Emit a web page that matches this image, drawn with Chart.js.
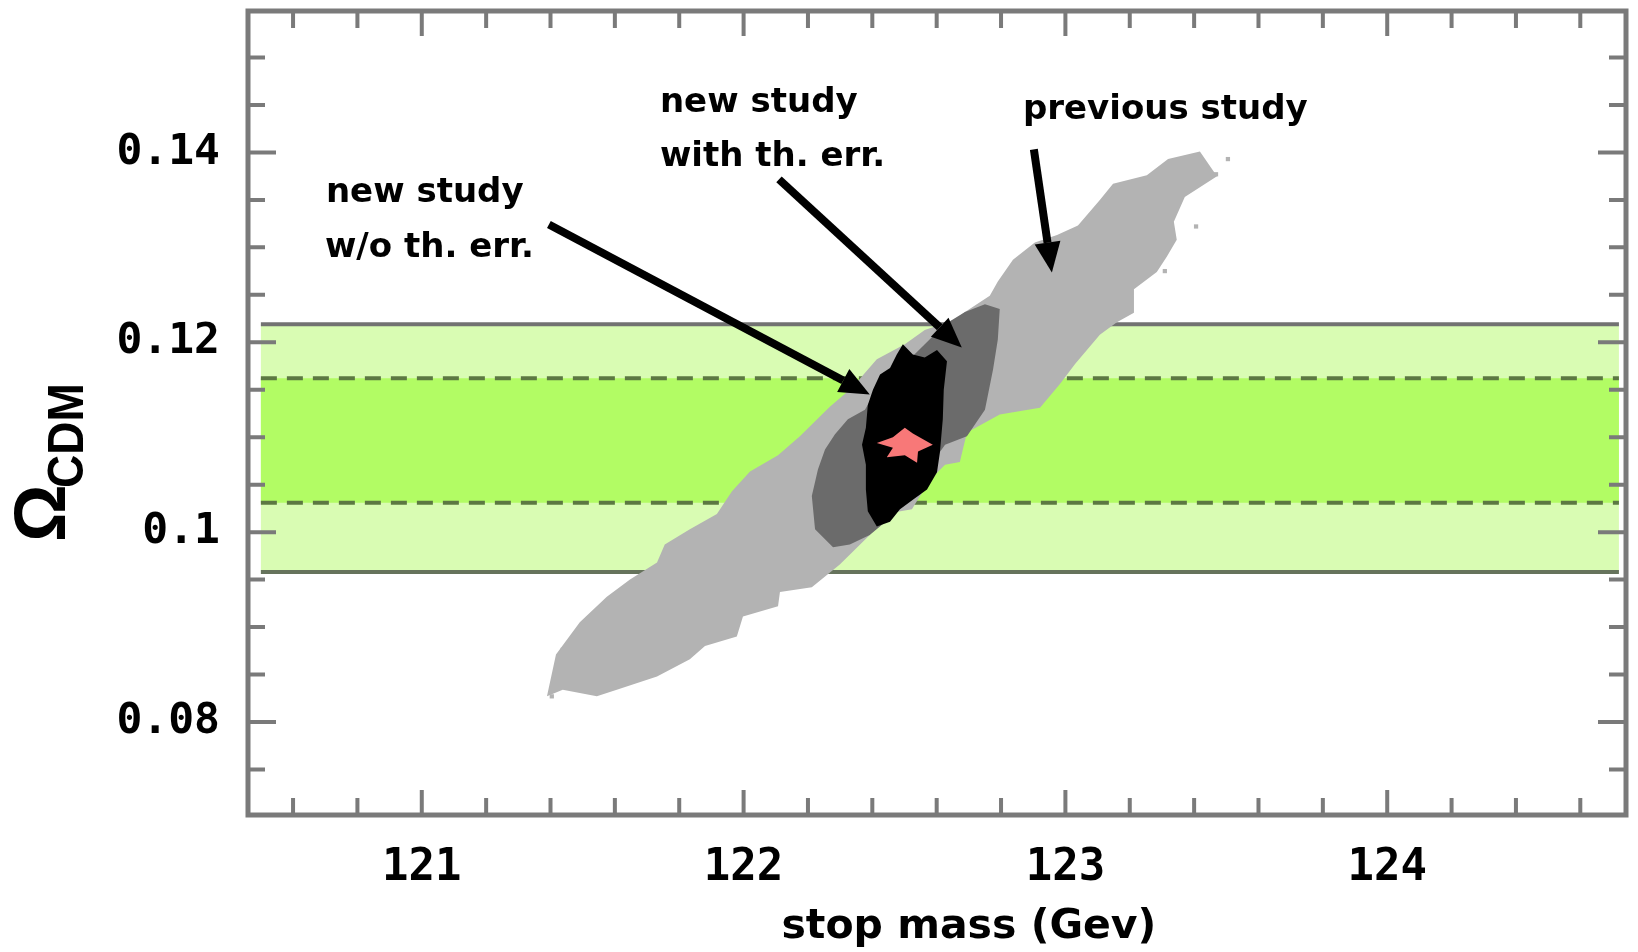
<!DOCTYPE html>
<html>
<head>
<meta charset="utf-8">
<script src="https://cdn.jsdelivr.net/npm/chart.js@4.4.0/dist/chart.umd.min.js"></script>
<style>
  html, body { margin: 0; padding: 0; background: #fff; }
</style>
</head>
<body>
<canvas id="myChart" width="1638" height="952"></canvas>
<script>
// axis ticks
var xTickValues = [121, 122, 123, 124];
var xTickLabels = ['121', '122', '123', '124'];
var yTickValues = [0.08, 0.1, 0.12, 0.14];
var yTickLabels = ['0.08', '0.1', '0.12', '0.14'];

// relic density bands
var bandX = [120.50, 124.72];
var outerBand = [0.0958, 0.1219];
var innerBand = [0.1031, 0.1162];

// scan regions (outlines)
var previousStudy = [
  [121.389, 0.0827], [121.417, 0.0871], [121.491, 0.0905], [121.575, 0.0932], [121.647, 0.0950],
  [121.731, 0.0968], [121.755, 0.0987], [121.833, 0.1003], [121.917, 0.1019], [121.964, 0.1043],
  [122.020, 0.1064], [122.107, 0.1081], [122.175, 0.1101], [122.268, 0.1132], [122.337, 0.1152],
  [122.414, 0.1182], [122.501, 0.1198], [122.563, 0.1213], [122.657, 0.1224], [122.688, 0.1232],
  [122.765, 0.1249], [122.790, 0.1264], [122.837, 0.1287], [122.905, 0.1305], [122.974, 0.1313],
  [123.039, 0.1323], [123.107, 0.1350], [123.148, 0.1367], [123.253, 0.1376], [123.319, 0.1393],
  [123.418, 0.1401], [123.471, 0.1375], [123.371, 0.1353], [123.337, 0.1327], [123.346, 0.1308],
  [123.315, 0.1290], [123.284, 0.1274], [123.213, 0.1256], [123.213, 0.1231], [123.160, 0.1221],
  [123.107, 0.1208], [123.030, 0.1177], [122.983, 0.1156], [122.921, 0.1131], [122.796, 0.1124],
  [122.694, 0.1105], [122.672, 0.1074], [122.626, 0.1071], [122.579, 0.1055], [122.523, 0.1024],
  [122.439, 0.1019], [122.392, 0.0997], [122.299, 0.0966], [122.212, 0.0942], [122.113, 0.0937],
  [122.107, 0.0922], [121.998, 0.0911], [121.979, 0.0890], [121.880, 0.0880], [121.833, 0.0866],
  [121.731, 0.0848], [121.606, 0.0834], [121.544, 0.0827], [121.438, 0.0834], [121.389, 0.0827]
];
var previousOutliers = [
  [123.406, 0.1322], [123.468, 0.1377], [123.505, 0.1393], [122.184, 0.0947],
  [121.404, 0.0827], [121.438, 0.0876], [123.309, 0.1275]
];
var withThErr = [
  [122.278, 0.0984], [122.222, 0.1003], [122.212, 0.1038], [122.231, 0.1066], [122.253, 0.1087],
  [122.284, 0.1103], [122.324, 0.1119], [122.377, 0.1129], [122.424, 0.1156], [122.501, 0.1177],
  [122.563, 0.1198], [122.626, 0.1219], [122.688, 0.1232], [122.750, 0.1240], [122.796, 0.1235],
  [122.790, 0.1203], [122.775, 0.1171], [122.750, 0.1129], [122.694, 0.1101], [122.626, 0.1092],
  [122.548, 0.1055], [122.470, 0.1019], [122.392, 0.0997], [122.330, 0.0987], [122.278, 0.0984]
];
var withoutThErr = [
  [122.402, 0.1150], [122.424, 0.1166], [122.455, 0.1173], [122.476, 0.1187], [122.495, 0.1198],
  [122.526, 0.1187], [122.563, 0.1184], [122.601, 0.1192], [122.632, 0.1180], [122.622, 0.1150],
  [122.619, 0.1119], [122.610, 0.1084], [122.601, 0.1063], [122.570, 0.1045], [122.526, 0.1034],
  [122.486, 0.1024], [122.455, 0.1011], [122.414, 0.1006], [122.386, 0.1022], [122.380, 0.1045],
  [122.380, 0.1071], [122.368, 0.1092], [122.380, 0.1110], [122.386, 0.1134], [122.402, 0.1150]
];
var bestFit = [
  [122.414, 0.1094], [122.464, 0.1100], [122.501, 0.1110], [122.526, 0.1104], [122.588, 0.1092],
  [122.542, 0.1085], [122.539, 0.1073], [122.501, 0.1081], [122.445, 0.1079], [122.464, 0.1089],
  [122.414, 0.1094]
];

// annotations (data coordinates)
var notes = [
  { text: 'new study', x: 120.702, y: 0.13473 },
  { text: 'w/o th. err.', x: 120.699, y: 0.12894 },
  { text: 'new study', x: 121.740, y: 0.14421 },
  { text: 'with th. err.', x: 121.740, y: 0.13852 },
  { text: 'previous study', x: 122.868, y: 0.14348 }
];
var arrows = [
  { from: [121.395, 0.13241], to: [122.392, 0.11450] },
  { from: [122.110, 0.13716], to: [122.678, 0.11945] },
  { from: [122.902, 0.14032], to: [122.958, 0.12736] }
];

function pts(list) {
  return list.map(function (p) { return { x: p[0], y: p[1] }; });
}
function rect(xs, ys) {
  return [{x: xs[0], y: ys[0]}, {x: xs[1], y: ys[0]}, {x: xs[1], y: ys[1]}, {x: xs[0], y: ys[1]}, {x: xs[0], y: ys[0]}];
}
function hline(xs, yv) {
  return [{x: xs[0], y: yv}, {x: xs[1], y: yv}];
}
function near(a, b) { return Math.abs(a - b) < 1e-6; }

var framePlugin = {
  id: 'frame',
  afterDatasetsDraw: function (chart) {
    var ctx = chart.ctx, sx = chart.scales.x, sy = chart.scales.y;

    // arrows
    ctx.save();
    ctx.strokeStyle = '#000';
    ctx.fillStyle = '#000';
    arrows.forEach(function (ar) {
      var x0 = sx.getPixelForValue(ar.from[0]), y0 = sy.getPixelForValue(ar.from[1]);
      var x1 = sx.getPixelForValue(ar.to[0]), y1 = sy.getPixelForValue(ar.to[1]);
      var ang = Math.atan2(y1 - y0, x1 - x0);
      var headLen = 30, headW = 13;
      var bx = x1 - headLen * Math.cos(ang), by = y1 - headLen * Math.sin(ang);
      ctx.lineWidth = 8;
      ctx.beginPath();
      ctx.moveTo(x0, y0);
      ctx.lineTo(bx, by);
      ctx.stroke();
      ctx.beginPath();
      ctx.moveTo(x1, y1);
      ctx.lineTo(bx + headW * Math.sin(ang), by - headW * Math.cos(ang));
      ctx.lineTo(bx - headW * Math.sin(ang), by + headW * Math.cos(ang));
      ctx.closePath();
      ctx.fill();
    });

    // annotation text
    ctx.font = 'bold 34px "DejaVu Sans"';
    ctx.textAlign = 'left';
    ctx.textBaseline = 'alphabetic';
    notes.forEach(function (n) {
      ctx.fillText(n.text, sx.getPixelForValue(n.x), sy.getPixelForValue(n.y));
    });
    ctx.restore();
  },
  afterDraw: function (chart) {
    var ctx = chart.ctx, a = chart.chartArea, sx = chart.scales.x, sy = chart.scales.y;
    ctx.save();
    ctx.strokeStyle = '#7a7a7a';
    ctx.lineWidth = 4;
    ctx.beginPath();
    sx.ticks.forEach(function (t) {
      if (t.value <= sx.min || t.value >= sx.max) return;
      var px = sx.getPixelForValue(t.value);
      var major = xTickValues.some(function (v) { return near(v, t.value); });
      var len = major ? 25 : 17;
      ctx.moveTo(px, a.bottom); ctx.lineTo(px, a.bottom - len);
      ctx.moveTo(px, a.top); ctx.lineTo(px, a.top + len);
    });
    sy.ticks.forEach(function (t) {
      if (t.value <= sy.min || t.value >= sy.max - 1e-9) return;
      var py = sy.getPixelForValue(t.value);
      var major = yTickValues.some(function (v) { return near(v, t.value); });
      var len = major ? 28 : 17;
      ctx.moveTo(a.left, py); ctx.lineTo(a.left + len, py);
      ctx.moveTo(a.right, py); ctx.lineTo(a.right - len, py);
    });
    ctx.stroke();
    ctx.lineWidth = 5;
    ctx.strokeRect(a.left, a.top, a.right - a.left, a.bottom - a.top);

    // axis titles
    ctx.fillStyle = '#000';
    ctx.font = 'bold 41px "DejaVu Sans"';
    ctx.textAlign = 'center';
    ctx.textBaseline = 'alphabetic';
    ctx.fillText('stop mass (Gev)', sx.getPixelForValue(122.7), a.bottom + 123);

    ctx.textAlign = 'left';
    ctx.save();
    ctx.translate(a.left - 183, 542);
    ctx.rotate(-Math.PI / 2);
    ctx.font = 'bold 72px "Liberation Sans"';
    ctx.fillText('\u03A9', 0, 0);
    ctx.restore();
    ctx.save();
    ctx.translate(a.left - 165, 488);
    ctx.rotate(-Math.PI / 2);
    ctx.scale(0.92, 1);
    ctx.font = 'bold 50px "Liberation Sans"';
    ctx.fillText('CDM', 0, 0);
    ctx.restore();
    ctx.restore();
  }
};

function area(data, color, order) {
  return { data: data, backgroundColor: color, borderColor: color, borderWidth: 0,
           fill: 'shape', pointRadius: 0, order: order };
}
function line(data, color, dash, order) {
  return { data: data, borderColor: color, borderWidth: 4, borderDash: dash,
           fill: false, pointRadius: 0, order: order };
}
function noPadding(scale) {
  scale.paddingTop = 0;
  scale.paddingBottom = 0;
  scale.paddingLeft = 0;
  scale.paddingRight = 0;
}

var ctx = document.getElementById('myChart').getContext('2d');
var myChart = new Chart(ctx, {
  type: 'line',
  data: {
    datasets: [
      area(rect(bandX, outerBand), '#d9fcb3', 20),
      area(rect(bandX, innerBand), '#b2fc64', 19),
      line(hline(bandX, outerBand[1]), '#727272', [], 18),
      line(hline(bandX, outerBand[0]), '#66735c', [], 18),
      line(hline(bandX, innerBand[1]), '#5c7842', [16, 10], 17),
      line(hline(bandX, innerBand[0]), '#5c7842', [16, 10], 17),
      area(pts(previousStudy), '#b3b3b3', 16),
      { data: pts(previousOutliers), showLine: false, pointStyle: 'rect', pointRadius: 3,
        backgroundColor: '#b3b3b3', borderWidth: 0, order: 15 },
      area(pts(withThErr), '#6b6b6b', 14),
      area(pts(withoutThErr), '#000000', 13),
      area(pts(bestFit), '#f87878', 12)
    ]
  },
  options: {
    responsive: false,
    animation: false,
    devicePixelRatio: 1,
    layout: { padding: { left: 0, right: 12, top: 11, bottom: 0 } },
    plugins: { legend: { display: false }, tooltip: { enabled: false } },
    scales: {
      x: {
        type: 'linear', min: 120.46, max: 124.742,
        grid: { display: false }, border: { display: false },
        ticks: {
          stepSize: 0.2, includeBounds: false, autoSkip: false, maxRotation: 0, padding: 19,
          color: '#000', font: { family: '"DejaVu Sans Mono"', weight: 'bold', size: 44 },
          callback: function (v) {
            var i = xTickValues.findIndex(function (t) { return near(t, v); });
            return i >= 0 ? xTickLabels[i] : '';
          }
        },
        afterFit: function (scale) { scale.height = 137; noPadding(scale); }
      },
      y: {
        type: 'linear', min: 0.0702, max: 0.1549,
        grid: { display: false }, border: { display: false },
        ticks: {
          stepSize: 0.005, includeBounds: false, autoSkip: false, padding: 20,
          color: '#000', font: { family: '"DejaVu Sans Mono"', weight: 'bold', size: 43 },
          callback: function (v) {
            var i = yTickValues.findIndex(function (t) { return near(t, v); });
            return i >= 0 ? yTickLabels[i] : '';
          }
        },
        afterFit: function (scale) { scale.width = 248; noPadding(scale); }
      }
    }
  },
  plugins: [framePlugin]
});
</script>
</body>
</html>
